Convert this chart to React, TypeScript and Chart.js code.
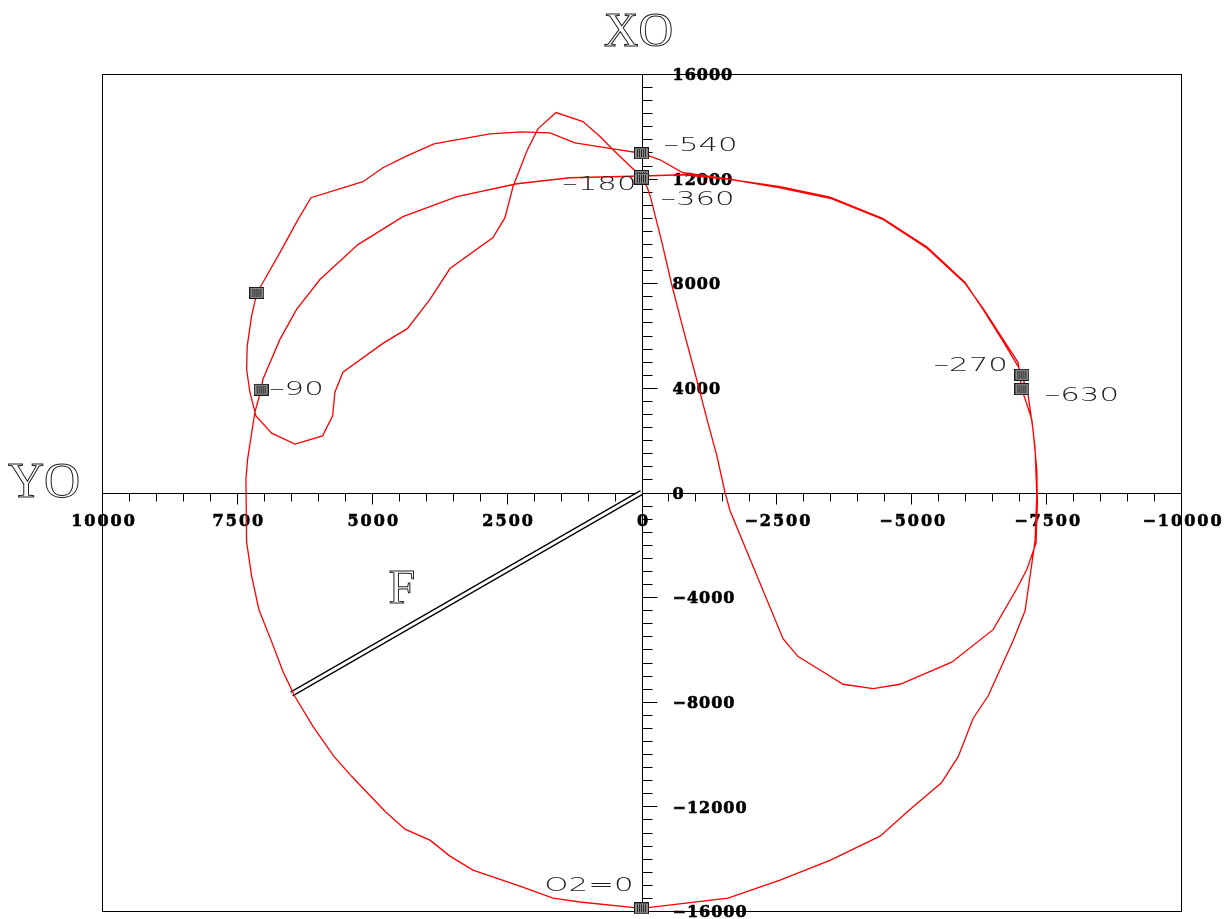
import { useEffect, useRef } from "react";
import { Chart, registerables } from "chart.js";

Chart.register(...registerables);

// Load locus over the working cycle (crank angle 0 → -720), components X0 / Y0
const loadX: number[] = [
  0, 1140, 1641, 2253, 3124, 3550, 3921, 4384, 4755, 5373, 5701, 6090, 6424, 6646, 6856, 7091, 7227, 7320, 7332, 7301, 7166, 7050, 7017, 6702, 6393, 5960, 5256, 4422, 3421, 2308, 1326, 0,
  -769, -1641, -2568, -3495, -4477, -5293, -5998, -6331, -6702, -6980, -7050,
  -7166, -7258, -7327, -7338, -7314, -7142, -6956, -6517, -5751, -4793, -4292, -3736, -3341, -2902, -2623, -1641, -1548, -1394, -1233, -992, -745, -560, -375, -158, -102, 0,
  83, 528, 769, 1085, 1585, 1919, 2123, 2382, 2531, 2753, 3550, 3921, 4335, 4793, 5534, 5683, 5725, 5911, 6424, 6856, 7147, 7258, 7320, 7308, 7227, 7130, 7017, 6702, 6368, 6127, 5163, 4793, 4348, 3847, 2809, 2216, 1696, 1233, 528, 0,
  -343, -769, -1696, -2568, -3495, -4477, -5293, -6000, -6350, -6702, -6980, -7050,
  -7234, -7295, -7327, -7295, -7110, -6888, -6424, -6146, -5870, -5560, -4960, -4422, -3504, -2568, -1604, 0,
];
const loadY: number[] = [
  -15900, -15656, -15504, -15046, -14436, -13902, -13292, -12872, -12186, -10851, -10088, -8944, -7800, -6846, -5702, -4481, -3185, -1888, 515, 1278, 3070, 3930, 4329, 5854, 6999, 8143, 9478, 10546, 11309, 11804, 12033, 12100,
  12148, 11972, 11698, 11289, 10469, 9382, 8028, 6999, 5778, 4825, 4500,
  3730, 2384, 870, -359, -1926, -2944, -3681, -5244, -6488, -7331, -7495, -7331, -6827, -6274, -5588, -698, 0, 1430, 2651, 4558, 6465, 7952, 9592, 11358, 11690, 12000,
  12224, 13101, 13608, 14180, 14524, 13902, 13063, 11690, 10508, 9745, 8562, 7380, 6274, 5702, 4596, 3833, 2929, 2166, 1850, 2269, 2929, 3833, 4710, 5599, 6743, 7630, 8028, 9173, 10431, 11270, 11881, 12415, 12872, 13330, 13711, 13788, 13749, 13368, 13139, 12970,
  12720, 12224, 11957, 11650, 11250, 10440, 9340, 7990, 6980, 5854, 4977, 3950,
  2803, 1697, -84, -1850, -4520, -5664, -7781, -8639, -10100, -11100, -12150, -13140, -14055, -14817, -15504, -15900,
];

// Marked crank angles along the locus
const markerLabels: string[] = ["O2=0", "–90", "–180", "–270", "–360", "", "–540", "–630"];
const markerX: number[] = [0, 7050, 0, -7050, 0, 7130, 0, -7050];
const markerY: number[] = [-15900, 3930, 12100, 4500, 12000, 7630, 12970, 3950];

// Resultant force F
const forceX: number[] = [0, 6485];
const forceY: number[] = [0, -7704];

// Axis tick labels
const xTickValues: number[] = [10000, 7500, 5000, 2500, 0, -2500, -5000, -7500, -10000];
const xTickLabels: string[] = ["10000", "7500", "5000", "2500", "0", "−2500", "−5000", "−7500", "−10000"];
const yTickValues: number[] = [16000, 12000, 8000, 4000, 0, -4000, -8000, -12000, -16000];
const yTickLabels: string[] = ["16000", "12000", "8000", "4000", "0", "−4000", "−8000", "−12000", "−16000"];

// Label placement around each marker: [dx, dy, align]
const markerLabelPlacement: [number, number, CanvasTextAlign][] = [
  [-8, -22, "right"],
  [8, 0, "left"],
  [-5, 9, "right"],
  [-14, -9, "right"],
  [19, 21, "left"],
  [0, 0, "left"],
  [22, -7, "left"],
  [23, 7, "left"],
];

function makeMarkerImage(): HTMLCanvasElement {
  const c = document.createElement("canvas");
  c.width = 15;
  c.height = 12;
  const g = c.getContext("2d")!;
  g.fillStyle = "#8a8a8a";
  g.fillRect(0, 0, 15, 12);
  g.fillStyle = "#2a2a2a";
  for (const x of [3, 5, 7, 9, 11]) g.fillRect(x, 2, 1, 8);
  g.strokeStyle = "#1a1a1a";
  g.lineWidth = 1;
  g.strokeRect(0.5, 0.5, 14, 11);
  return c;
}

const centerAxesPlugin = {
  id: "centerAxes",
  beforeDatasetsDraw(chart: any) {
    const { ctx, chartArea: a, scales } = chart;
    const xs = scales.x;
    const ys = scales.y;
    const x0 = Math.round(xs.getPixelForValue(0)) + 0.5;
    const y0 = Math.round(ys.getPixelForValue(0)) + 0.5;
    ctx.save();
    ctx.strokeStyle = "#000";
    ctx.lineWidth = 1;
    ctx.strokeRect(Math.round(a.left) + 0.5, Math.round(a.top) + 0.5, Math.round(a.right - a.left), Math.round(a.bottom - a.top));

    ctx.beginPath();
    ctx.moveTo(x0, a.top);
    ctx.lineTo(x0, a.bottom);
    ctx.moveTo(a.left, y0);
    ctx.lineTo(a.right, y0);
    for (let v = ys.min; v <= ys.max; v += 500) {
      const py = Math.round(ys.getPixelForValue(v)) + 0.5;
      const len = v % 4000 === 0 ? 15 : 10;
      ctx.moveTo(x0, py);
      ctx.lineTo(x0 + len, py);
    }
    for (let v = xs.min; v <= xs.max; v += 500) {
      const px = Math.round(xs.getPixelForValue(v)) + 0.5;
      const len = v % 2500 === 0 ? 11 : 8;
      ctx.moveTo(px, y0);
      ctx.lineTo(px, y0 + len);
    }
    ctx.stroke();

    ctx.fillStyle = "#000";
    ctx.strokeStyle = "#000";
    ctx.lineWidth = 0.6;
    ctx.font = "bold 16px 'DejaVu Serif'";
    ctx.textBaseline = "middle";
    (ctx as any).letterSpacing = "1px";
    ctx.textAlign = "left";
    yTickValues.forEach((v, i) => {
      const py = ys.getPixelForValue(v) + 2;
      ctx.fillText(yTickLabels[i], x0 + 30, py);
      ctx.strokeText(yTickLabels[i], x0 + 30, py);
    });
    (ctx as any).letterSpacing = "2px";
    ctx.textAlign = "center";
    xTickValues.forEach((v, i) => {
      const px = xs.getPixelForValue(v) + 2;
      ctx.fillText(xTickLabels[i], px, y0 + 28);
      ctx.strokeText(xTickLabels[i], px, y0 + 28);
    });
    ctx.restore();
  },
  afterDraw(chart: any) {
    const { ctx, chartArea: a, scales } = chart;
    const xs = scales.x;
    const ys = scales.y;
    const x0 = xs.getPixelForValue(0);
    const y0 = ys.getPixelForValue(0);
    ctx.save();

    // crank-angle labels
    ctx.fillStyle = "#1c1c1c";
    ctx.font = "200 19px 'DejaVu Sans'";
    ctx.textBaseline = "middle";
    markerLabels.forEach((t, i) => {
      if (!t) return;
      const [dx, dy, align] = markerLabelPlacement[i];
      const px = xs.getPixelForValue(markerX[i]) + dx;
      const py = ys.getPixelForValue(markerY[i]) + dy;
      ctx.save();
      ctx.translate(px, py);
      ctx.scale(1.62, 1);
      ctx.textAlign = align;
      ctx.fillText(t, 0, 0);
      ctx.restore();
    });

    // axis names and force label, outlined serif
    ctx.strokeStyle = "#222";
    ctx.lineWidth = 1;
    ctx.font = "48px 'Liberation Serif'";
    ctx.textBaseline = "alphabetic";
    ctx.textAlign = "center";
    ctx.strokeText("XO", x0 - 3, a.top - 28);
    ctx.textAlign = "left";
    ctx.font = "50px 'Liberation Serif'";
    ctx.strokeText("YO", 8, y0 + 4);
    ctx.font = "48px 'Liberation Serif'";
    const mx = (xs.getPixelForValue(forceX[0]) + xs.getPixelForValue(forceX[1])) / 2;
    const my = (ys.getPixelForValue(forceY[0]) + ys.getPixelForValue(forceY[1])) / 2;
    ctx.strokeText("F", mx - 78, my + 10);
    ctx.restore();
  },
};

export default function App() {
  const canvasRef = useRef<HTMLCanvasElement | null>(null);

  useEffect(() => {
    const canvas = canvasRef.current;
    if (!canvas) return;
    const marker = makeMarkerImage();
    const locus = loadX.map((x, i) => ({ x, y: loadY[i] }));
    const marks = markerX.map((x, i) => ({ x, y: markerY[i] }));
    const force = forceX.map((x, i) => ({ x, y: forceY[i] }));

    const chart = new Chart(canvas, {
      type: "scatter",
      data: {
        datasets: [
          {
            label: "markers",
            data: marks,
            showLine: false,
            pointStyle: marker as any,
            pointRadius: 7,
            clip: false as any,
            order: 0,
          },
          {
            label: "load",
            data: locus,
            showLine: true,
            borderColor: "#ff0000",
            borderWidth: 1.3,
            pointRadius: 0,
            tension: 0,
            order: 1,
          },
          {
            label: "F inner",
            data: force,
            showLine: true,
            borderColor: "#ffffff",
            borderWidth: 3,
            pointRadius: 0,
            order: 2,
          },
          {
            label: "F",
            data: force,
            showLine: true,
            borderColor: "#000000",
            borderWidth: 5.5,
            pointRadius: 0,
            order: 3,
          },
        ],
      },
      options: {
        animation: false,
        responsive: false,
        devicePixelRatio: 1,
        layout: { padding: { left: 102, top: 74, right: 47, bottom: 6 } },
        plugins: { legend: { display: false }, tooltip: { enabled: false } },
        scales: {
          x: { type: "linear", min: -10000, max: 10000, reverse: true, display: false },
          y: { type: "linear", min: -16000, max: 16000, display: false },
        },
      },
      plugins: [centerAxesPlugin],
    });
    return () => chart.destroy();
  }, []);

  return (
    <div style={{ position: "fixed", left: 0, top: 0, width: 1228, height: 919, background: "#fff" }}>
      <canvas ref={canvasRef} width={1228} height={919} style={{ display: "block" }} />
    </div>
  );
}
